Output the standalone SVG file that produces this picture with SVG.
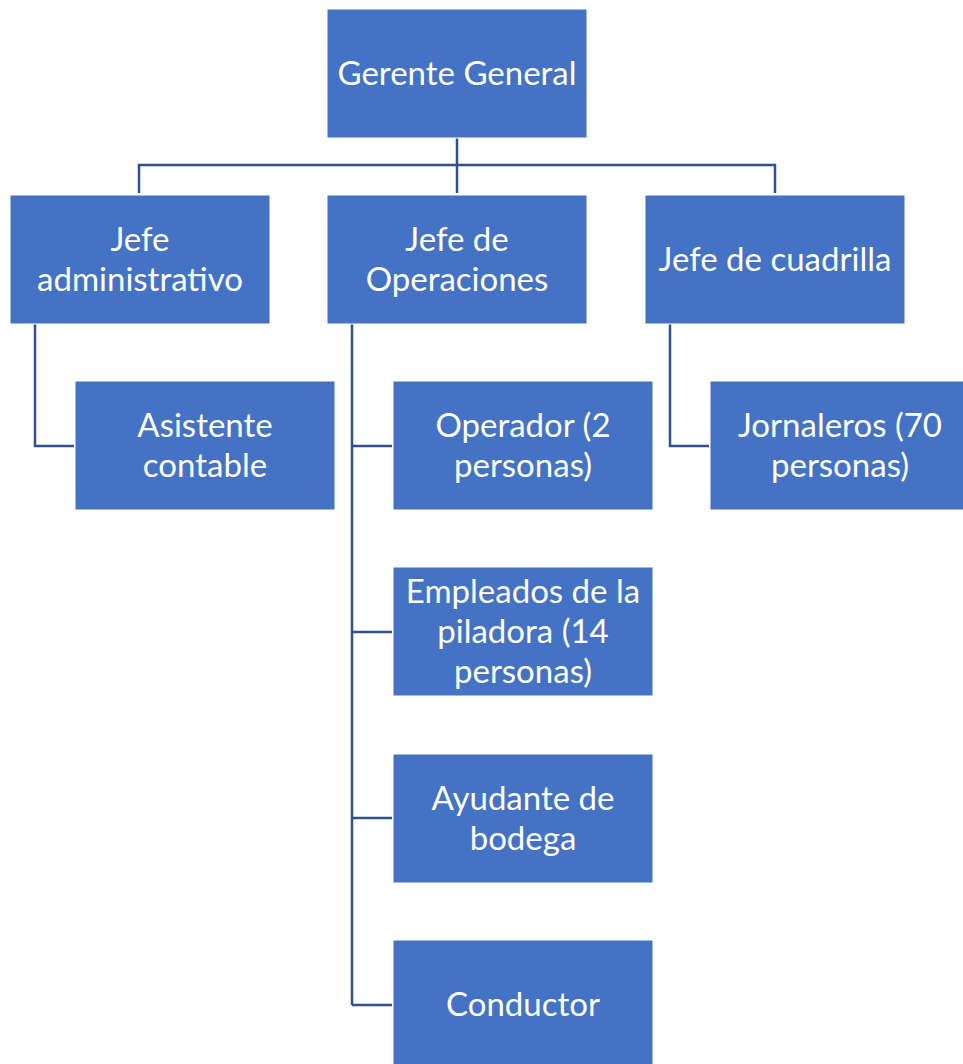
<svg xmlns="http://www.w3.org/2000/svg" width="963" height="1064" viewBox="0 0 963 1064">
<style>
.box{fill:#4472C4;stroke:#ffffff;stroke-width:1}
.t{font-family:Lato,"Liberation Sans",sans-serif;font-size:33px;fill:#ffffff;text-anchor:middle}
.c{fill:none;stroke:#2F528F;stroke-width:2.5}
</style>
<rect width="963" height="1064" fill="#ffffff"/>
<g id="connectors">
<path class="c" d="M457 138V193M139 193V165H775V193"/>
<path class="c" d="M35 324V446H74"/>
<path class="c" d="M352 324V1005M352 446H392M352 632H392M352 818H392M352 1005H392"/>
<path class="c" d="M670 324V446H709"/>
</g>
<g id="gerente"><rect class="box" x="327" y="9" width="260" height="129"/><text class="t" x="457" y="85">Gerente General</text></g>
<g id="jefe-admin"><rect class="box" x="10" y="195" width="260" height="129"/><text class="t" x="140" y="251">Jefe<tspan x="140" dy="40">administrativo</tspan></text></g>
<g id="jefe-oper"><rect class="box" x="327" y="195" width="260" height="129"/><text class="t" x="457" y="251">Jefe de<tspan x="457" dy="40">Operaciones</tspan></text></g>
<g id="jefe-cuad"><rect class="box" x="645" y="195" width="260" height="129"/><text class="t" x="775" y="271">Jefe de cuadrilla</text></g>
<g id="asistente"><rect class="box" x="75" y="381" width="260" height="129"/><text class="t" x="205" y="437">Asistente<tspan x="205" dy="40">contable</tspan></text></g>
<g id="operador"><rect class="box" x="393" y="381" width="260" height="129"/><text class="t" x="523" y="437">Operador (2<tspan x="523" dy="40">personas)</tspan></text></g>
<g id="jornaleros"><rect class="box" x="710" y="381" width="260" height="129"/><text class="t" x="840" y="437">Jornaleros (70<tspan x="840" dy="40">personas)</tspan></text></g>
<g id="empleados"><rect class="box" x="393" y="567" width="260" height="129"/><text class="t" x="523" y="603">Empleados de la<tspan x="523" dy="40">piladora (14</tspan><tspan x="523" dy="40">personas)</tspan></text></g>
<g id="ayudante"><rect class="box" x="393" y="754" width="260" height="129"/><text class="t" x="523" y="810">Ayudante de<tspan x="523" dy="40">bodega</tspan></text></g>
<g id="conductor"><rect class="box" x="393" y="940" width="260" height="129"/><text class="t" x="523" y="1016">Conductor</text></g>
</svg>
